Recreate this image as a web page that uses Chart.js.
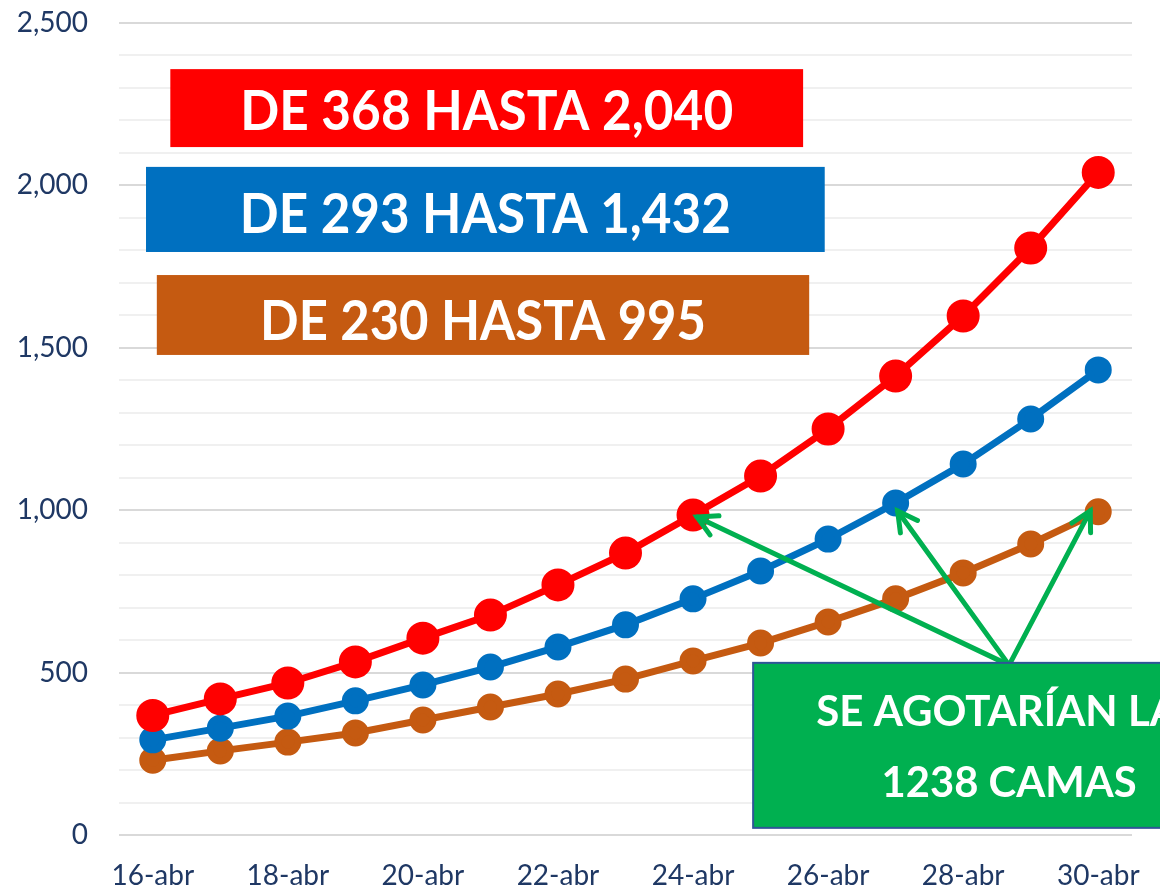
<!DOCTYPE html>
<html>
<head>
<meta charset="utf-8">
<script src="https://cdn.jsdelivr.net/npm/chart.js@4.4.1/dist/chart.umd.min.js"></script>
<style>
  html, body { margin: 0; padding: 0; background: #fff; }
</style>
</head>
<body>
<canvas id="chart" width="1160" height="896"></canvas>
<script>
// datos
const dias = ["16-abr", "17-abr", "18-abr", "19-abr", "20-abr", "21-abr", "22-abr", "23-abr",
  "24-abr", "25-abr", "26-abr", "27-abr", "28-abr", "29-abr", "30-abr"];
const escenarioAlto = [368, 419, 468, 533, 606, 677, 770, 868, 985, 1105, 1250, 1413, 1598, 1807, 2040];
const escenarioMedio = [293, 329, 366, 413, 462, 517, 579, 647, 727, 813, 911, 1022, 1142, 1281, 1432];
const escenarioBajo = [230, 259, 286, 314, 354, 394, 434, 480, 536, 591, 656, 727, 807, 896, 995];
const yTicks = [0, 500, 1000, 1500, 2000, 2500];

const azulTexto = "#1f3864";
const fuente = "Lato, 'Open Sans', sans-serif";

// cuadros de texto (posicion en unidades del grafico: indice de dia / valor)
const cuadros = [
  { texto: "DE 368 HASTA 2,040", color: "#ff0000", x0: 0.26, x1: 9.63, y0: 2118, y1: 2358, ty: 2227, ancho: 493 },
  { texto: "DE 293 HASTA 1,432", color: "#0070c0", x0: -0.1, x1: 9.95, y0: 1795, y1: 2057, ty: 1909, ancho: 491 },
  { texto: "DE 230 HASTA 995", color: "#c55a11", x0: 0.06, x1: 9.72, y0: 1478, y1: 1724, ty: 1579, ancho: 446 }
];

// flechas desde el cuadro verde a los puntos donde se superan las camas
const flechas = [
  { serie: 0, idx: 8, dx: 4, dy: 2 },
  { serie: 1, idx: 11, dx: 2, dy: 8 },
  { serie: 2, idx: 14, dx: -8, dy: -1 }
];

const anotaciones = {
  id: "anotaciones",
  afterDatasetsDraw(chart) {
    const ctx = chart.ctx;
    const xs = chart.scales.x;
    const ys = chart.scales.y;
    ctx.save();

    cuadros.forEach((c) => {
      const l = xs.getPixelForValue(c.x0);
      const r = xs.getPixelForValue(c.x1);
      const t = ys.getPixelForValue(c.y1);
      const b = ys.getPixelForValue(c.y0);
      ctx.fillStyle = c.color;
      ctx.fillRect(l, t, r - l, b - t);
      ctx.fillStyle = "#fff";
      ctx.font = "bold 56px " + fuente;
      ctx.textAlign = "center";
      ctx.textBaseline = "middle";
      ctx.fillText(c.texto, (l + r) / 2, ys.getPixelForValue(c.ty), c.ancho);
    });

    // cuadro verde
    const gl = xs.getPixelForValue(8.89);
    const gr = xs.getPixelForValue(15.5);
    const gt = ys.getPixelForValue(530);
    const gb = ys.getPixelForValue(22);
    const origenX = xs.getPixelForValue(12.68);
    const origenY = ys.getPixelForValue(523);

    ctx.strokeStyle = "#00b050";
    ctx.lineWidth = 5;
    ctx.lineCap = "round";
    flechas.forEach((f) => {
      const p = chart.getDatasetMeta(f.serie).data[f.idx];
      const tx = p.x + f.dx;
      const ty = p.y + f.dy;
      const ang = Math.atan2(ty - origenY, tx - origenX);
      ctx.beginPath();
      ctx.moveTo(origenX, origenY);
      ctx.lineTo(tx, ty);
      ctx.stroke();
      ctx.beginPath();
      ctx.moveTo(tx - 22 * Math.cos(ang - 0.5), ty - 22 * Math.sin(ang - 0.5));
      ctx.lineTo(tx, ty);
      ctx.lineTo(tx - 22 * Math.cos(ang + 0.5), ty - 22 * Math.sin(ang + 0.5));
      ctx.stroke();
    });

    ctx.fillStyle = "#00b050";
    ctx.fillRect(gl, gt, gr - gl, gb - gt);
    ctx.strokeStyle = "#2f5597";
    ctx.lineWidth = 2;
    ctx.strokeRect(gl, gt, gr - gl, gb - gt);
    ctx.fillStyle = "#fff";
    ctx.font = "bold 42px " + fuente;
    ctx.textAlign = "center";
    ctx.textBaseline = "middle";
    ctx.fillText("SE AGOTARÍAN LAS", origenX, ys.getPixelForValue(376));
    ctx.fillText("1238 CAMAS", origenX, ys.getPixelForValue(160), 255);

    ctx.restore();
  }
};

function serie(datos, color, radio) {
  return {
    data: datos,
    borderColor: color,
    backgroundColor: color,
    pointBackgroundColor: color,
    pointBorderColor: color,
    borderWidth: 7,
    pointRadius: radio,
    pointHoverRadius: radio,
    tension: 0
  };
}

const ctx = document.getElementById("chart");
new Chart(ctx, {
  type: "line",
  data: {
    labels: dias,
    datasets: [
      serie(escenarioAlto, "#ff0000", 13),
      serie(escenarioMedio, "#0070c0", 10),
      serie(escenarioBajo, "#c55a11", 10)
    ]
  },
  options: {
    responsive: false,
    animation: false,
    layout: { padding: { top: 23, right: 28, left: 0, bottom: 0 } },
    plugins: { legend: { display: false }, tooltip: { enabled: false } },
    scales: {
      x: {
        offset: true,
        grid: { display: false },
        border: { display: false },
        afterFit: (s) => { s.height = 61; },
        ticks: {
          autoSkip: false,
          maxRotation: 0,
          color: azulTexto,
          font: { family: fuente, size: 28 },
          padding: 16,
          callback: (v, i) => (i % 2 === 0 ? dias[i] : "")
        }
      },
      y: {
        min: 0,
        max: 2500,
        border: { display: false },
        afterFit: (s) => { s.width = 119; },
        grid: {
          color: (c) => (yTicks.includes(c.tick.value) ? "#d9d9d9" : "#f0f0f0"),
          lineWidth: 2,
          drawTicks: true,
          tickLength: 30,
          tickColor: "rgba(0,0,0,0)"
        },
        ticks: {
          stepSize: 100,
          maxTicksLimit: 30,
          autoSkip: false,
          color: azulTexto,
          font: { family: fuente, size: 28 },
          padding: 1,
          callback: (v) => (yTicks.includes(v) ? v.toLocaleString("en-US") : "")
        }
      }
    }
  },
  plugins: [anotaciones]
});
</script>
</body>
</html>
